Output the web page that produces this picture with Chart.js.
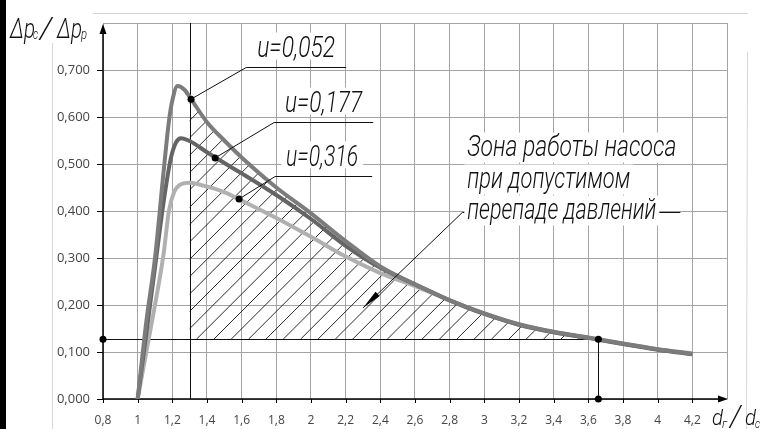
<!DOCTYPE html>
<html>
<head>
<meta charset="utf-8">
<script src="https://cdn.jsdelivr.net/npm/chart.js"></script>
<style>
  html, body { margin: 0; padding: 0; background: #fff; }
  #wrap { position: relative; width: 774px; height: 429px; }
  canvas { display: block; }
</style>
</head>
<body>
<div id="wrap"><canvas id="chart" width="774" height="429"></canvas></div>
<script>
/* ── data ───────────────────────────────────────────────── */

const seriesNames = ['u=0,052', 'u=0,177', 'u=0,316'];

const x052 = [1.0, 1.05, 1.1, 1.15, 1.18, 1.2, 1.23, 1.27, 1.31, 1.4, 1.5, 1.6, 1.8, 2.0, 2.2, 2.4, 2.6, 2.8, 3.0, 3.2, 3.4, 3.6, 3.8, 4.0, 4.2];
const y052 = [0, 0.165, 0.30, 0.485, 0.59, 0.635, 0.666, 0.658, 0.637, 0.589, 0.55, 0.514, 0.45, 0.395, 0.336, 0.282, 0.244, 0.21, 0.182, 0.159, 0.143, 0.131, 0.118, 0.106, 0.096];

const x177 = [1.0, 1.05, 1.1, 1.15, 1.19, 1.22, 1.25, 1.3, 1.4, 1.5, 1.6, 1.8, 2.0, 2.2, 2.4, 2.6, 2.8, 3.0, 3.2, 3.4, 3.6, 3.8, 4.0, 4.2];
const y177 = [0, 0.14, 0.28, 0.42, 0.51, 0.545, 0.555, 0.549, 0.525, 0.502, 0.48, 0.434, 0.383, 0.326, 0.279, 0.244, 0.21, 0.181, 0.158, 0.142, 0.13, 0.117, 0.105, 0.095];

const x316 = [1.0, 1.05, 1.1, 1.15, 1.18, 1.21, 1.25, 1.3, 1.35, 1.4, 1.5, 1.6, 1.8, 2.0, 2.2, 2.4, 2.6, 2.8, 3.0, 3.2, 3.4, 3.6, 3.8, 4.0, 4.2];
const y316 = [0, 0.1, 0.2, 0.31, 0.4, 0.44, 0.457, 0.46, 0.457, 0.452, 0.44, 0.422, 0.385, 0.345, 0.303, 0.268, 0.24, 0.21, 0.182, 0.158, 0.142, 0.13, 0.117, 0.106, 0.097];

const xTicks = [0.8, 1, 1.2, 1.4, 1.6, 1.8, 2, 2.2, 2.4, 2.6, 2.8, 3, 3.2, 3.4, 3.6, 3.8, 4, 4.2, 4.4];
const xTickLabels = ['0,8', '1', '1,2', '1,4', '1,6', '1,8', '2', '2,2', '2,4', '2,6', '2,8', '3', '3,2', '3,4', '3,6', '3,8', '4', '4,2', ''];
const yTicks = [0, 0.1, 0.2, 0.3, 0.4, 0.5, 0.6, 0.7, 0.8];
const yTickLabels = ['0,000', '0,100', '0,200', '0,300', '0,400', '0,500', '0,600', '0,700', ''];

/* marked points on each curve (label anchors) */
const markX = [1.308, 1.447, 1.585];
const markY = [0.638, 0.513, 0.4255];

/* working zone: d_г/d_c from 1.3 to 3.658, Δp ratio above 0.127 */
const zoneX = [1.3, 3.658];
const zoneY = 0.127;
const zoneText = ['Зона работы насоса', 'при допустимом', 'перепаде давлений'];

/* ── annotation layout (data coords for leader lines) ───── */
const leaders = [
    { ex: 1.626, ey: 0.706, endX: 2.203, w: 78 },
    { ex: 1.787, ey: 0.589, endX: 2.359, w: 77 },
    { ex: 1.793, ey: 0.474, endX: 2.353, w: 72 }
];
const zoneLeader = { tipX: 2.301, tipY: 0.194, ex: 2.873, ey: 0.398, endX: 4.131, widths: [209, 163, 189] };

const FONT = 'Roboto, "DejaVu Sans"';

function pts(xs, ys) { return xs.map((x, i) => ({ x, y: ys[i] })); }

/* thin narrow italic text squeezed to a given width */
function fitText(ctx, txt, x, base, w, size) {
    ctx.save();
    ctx.font = `italic 300 ${size}px ${FONT}`;
    const m = ctx.measureText(txt).width;
    ctx.translate(x, base);
    ctx.scale(w / m, 1);
    ctx.fillStyle = '#111';
    ctx.textBaseline = 'alphabetic';
    ctx.fillText(txt, 0, 0);
    ctx.restore();
}

function seg(ctx, x1, y1, x2, y2) {
    ctx.beginPath(); ctx.moveTo(x1, y1); ctx.lineTo(x2, y2); ctx.stroke();
}

/* ── plugins ────────────────────────────────────────────── */

const underPlugin = {
    id: 'under',
    beforeDatasetsDraw(ch) {
        const { ctx, chartArea: a, scales: { x, y } } = ch;
        ctx.save();

        /* outer light frame */
        ctx.strokeStyle = '#d6d6d6'; ctx.lineWidth = 1;
        seg(ctx, 93, 13.5, 748, 13.5);
        seg(ctx, 52.5, 43, 52.5, 429);
        seg(ctx, 747.5, 52, 746.5, 429);

        /* hatched zone under the u=0,052 curve */
        const xl = x.getPixelForValue(zoneX[0]);
        const xr = x.getPixelForValue(zoneX[1]);
        const yb = y.getPixelForValue(zoneY);
        const meta = ch.getDatasetMeta(1);
        ctx.save();
        ctx.beginPath();
        try {
            meta.dataset.updateControlPoints(a, 'x');
            meta.dataset.path(ctx);
        } catch (e) {
            ctx.beginPath();
            meta.data.forEach((p, i) => i ? ctx.lineTo(p.x, p.y) : ctx.moveTo(p.x, p.y));
        }
        const last = meta.data[meta.data.length - 1], first = meta.data[0];
        ctx.lineTo(last.x, a.bottom); ctx.lineTo(first.x, a.bottom); ctx.closePath();
        ctx.clip();
        ctx.beginPath(); ctx.rect(xl, a.top, xr - xl, yb - a.top); ctx.clip();
        ctx.strokeStyle = '#111'; ctx.lineWidth = 0.9;
        const H = yb - a.top, s = 17.35;
        for (let b = xl + 6.7 - Math.ceil(H / s) * s; b < xr; b += s) {
            seg(ctx, b, yb, b + H, yb - H);
        }
        ctx.restore();

        /* zone boundaries */
        ctx.strokeStyle = '#111'; ctx.lineWidth = 1;
        seg(ctx, Math.round(xl) + 0.5, a.top, Math.round(xl) + 0.5, a.bottom);
        seg(ctx, a.left, Math.round(yb) + 0.5, xr, Math.round(yb) + 0.5);
        seg(ctx, Math.round(xr) + 0.5, yb, Math.round(xr) + 0.5, a.bottom);

        /* axes with arrows and tick marks */
        ctx.strokeStyle = '#000'; ctx.fillStyle = '#000'; ctx.lineWidth = 1.5;
        seg(ctx, a.left, a.bottom, a.left, a.top + 4);
        seg(ctx, a.left, a.bottom, a.right - 4, a.bottom);
        ctx.beginPath();
        ctx.moveTo(a.left, a.top + 1); ctx.lineTo(a.left - 3.5, a.top + 11); ctx.lineTo(a.left + 3.5, a.top + 11);
        ctx.closePath(); ctx.fill();
        ctx.beginPath();
        ctx.moveTo(a.right + 1, a.bottom); ctx.lineTo(a.right - 9, a.bottom - 3.5); ctx.lineTo(a.right - 9, a.bottom + 3.5);
        ctx.closePath(); ctx.fill();
        ctx.lineWidth = 1;
        yTicks.slice(0, -1).forEach(v => {
            const py = Math.round(y.getPixelForValue(v)) + 0.5;
            seg(ctx, a.left - 6, py, a.left, py);
        });
        xTicks.slice(0, -1).forEach(v => {
            const px = Math.round(x.getPixelForValue(v)) + 0.5;
            seg(ctx, px, a.bottom, px, a.bottom + 4);
        });
        ctx.restore();
    }
};

const overPlugin = {
    id: 'over',
    afterDatasetsDraw(ch) {
        const { ctx, scales: { x, y } } = ch;
        ctx.save();
        ctx.strokeStyle = '#111'; ctx.lineWidth = 1;

        /* curve labels with leader lines */
        leaders.forEach((L, i) => {
            const mx = x.getPixelForValue(markX[i]), my = y.getPixelForValue(markY[i]);
            const ex = x.getPixelForValue(L.ex), ey = Math.round(y.getPixelForValue(L.ey)) + 0.5;
            const endX = x.getPixelForValue(L.endX);
            ctx.beginPath(); ctx.moveTo(mx, my); ctx.lineTo(ex, ey); ctx.lineTo(endX, ey); ctx.stroke();
            const tx = ex + 11, base = ey - 11;
            ctx.fillStyle = '#fff';
            ctx.fillRect(tx - 5, base - 24, L.w + 10, 27);
            fitText(ctx, seriesNames[i], tx, base, L.w, 30);
        });

        /* zone label with arrow */
        const Z = zoneLeader;
        const tx = x.getPixelForValue(Z.tipX), ty = y.getPixelForValue(Z.tipY);
        const ex = x.getPixelForValue(Z.ex), ey = Math.round(y.getPixelForValue(Z.ey)) + 0.5;
        const endX = x.getPixelForValue(Z.endX);
        ctx.beginPath(); ctx.moveTo(tx, ty); ctx.lineTo(ex, ey); ctx.lineTo(endX, ey); ctx.stroke();
        const ang = Math.atan2(ey - ty, ex - tx);
        ctx.fillStyle = '#000';
        ctx.beginPath();
        ctx.moveTo(tx, ty);
        ctx.lineTo(tx + 20 * Math.cos(ang) - 3 * Math.sin(ang), ty + 20 * Math.sin(ang) + 3 * Math.cos(ang));
        ctx.lineTo(tx + 20 * Math.cos(ang) + 3 * Math.sin(ang), ty + 20 * Math.sin(ang) - 3 * Math.cos(ang));
        ctx.closePath(); ctx.fill();
        const left = ex + 5;
        const bases = [ey - 57, ey - 25, ey + 6];
        zoneText.forEach((t, i) => {
            ctx.fillStyle = '#fff';
            ctx.fillRect(left - 3, bases[i] - 23, Z.widths[i] + 6, 30);
        });
        zoneText.forEach((t, i) => fitText(ctx, t, left, bases[i], Z.widths[i], 30));

        /* axis titles */
        fitText(ctx, 'Δp', 10, 38, 25, 27);
        fitText(ctx, 'с', 33, 39, 5, 14);
        fitText(ctx, '/', 40, 38, 12, 29);
        fitText(ctx, 'Δp', 57, 38, 25, 27);
        fitText(ctx, 'р', 81, 39, 6, 14);

        fitText(ctx, 'd', 712, 425, 11, 22);
        fitText(ctx, 'г', 722, 428, 5, 12);
        fitText(ctx, '/', 730, 426, 11, 29);
        fitText(ctx, 'd', 745, 425, 11, 22);
        fitText(ctx, 'с', 755, 428, 5, 12);

        /* dark strip on the left edge */
        ctx.fillStyle = '#000';
        ctx.fillRect(0, 0, 6, 429);
        ctx.restore();
    }
};

/* ── chart ──────────────────────────────────────────────── */

const marks = pts(markX, markY).concat([
    { x: xTicks[0], y: zoneY },
    { x: zoneX[1], y: zoneY },
    { x: zoneX[1], y: 0 }
]);

const curveStyle = (color) => ({
    borderColor: color, borderWidth: 4, pointRadius: 0,
    cubicInterpolationMode: 'monotone', fill: false
});

new Chart(document.getElementById('chart'), {
    type: 'line',
    data: {
        datasets: [
            { label: 'marks', data: marks, showLine: false, pointRadius: 3.5, pointBackgroundColor: '#000',
              pointBorderWidth: 0, clip: false, order: 0 },
            Object.assign({ label: seriesNames[0], data: pts(x052, y052), order: 1 }, curveStyle('#7c7c7c')),
            Object.assign({ label: seriesNames[1], data: pts(x177, y177), order: 2 }, curveStyle('#656565')),
            Object.assign({ label: seriesNames[2], data: pts(x316, y316), order: 3 }, curveStyle('#b0b0b0'))
        ]
    },
    options: {
        responsive: false,
        animation: false,
        devicePixelRatio: 1,
        layout: { padding: { left: 0, top: 23, right: 47, bottom: 0 } },
        plugins: { legend: { display: false }, tooltip: { enabled: false } },
        scales: {
            x: {
                type: 'linear', min: 0.8, max: 4.4,
                afterBuildTicks: s => { s.ticks = xTicks.map(v => ({ value: v })); },
                afterFit: s => { s.height = 30; },
                ticks: { autoSkip: false, maxRotation: 0, padding: 14, color: '#444',
                         font: { family: 'Open Sans', size: 12 },
                         callback: (v, i) => xTickLabels[i] },
                grid: { color: '#a3a3a3', lineWidth: 1, drawTicks: false },
                border: { display: false }
            },
            y: {
                min: 0, max: 0.8,
                afterBuildTicks: s => { s.ticks = yTicks.map(v => ({ value: v })); },
                afterFit: s => { s.width = 103; },
                ticks: { padding: 13, color: '#444',
                         font: { family: 'Open Sans', size: 13 },
                         callback: (v, i) => yTickLabels[i] },
                grid: { color: '#a3a3a3', lineWidth: 1, drawTicks: false },
                border: { display: false }
            }
        }
    },
    plugins: [underPlugin, overPlugin]
});
</script>
</body>
</html>
